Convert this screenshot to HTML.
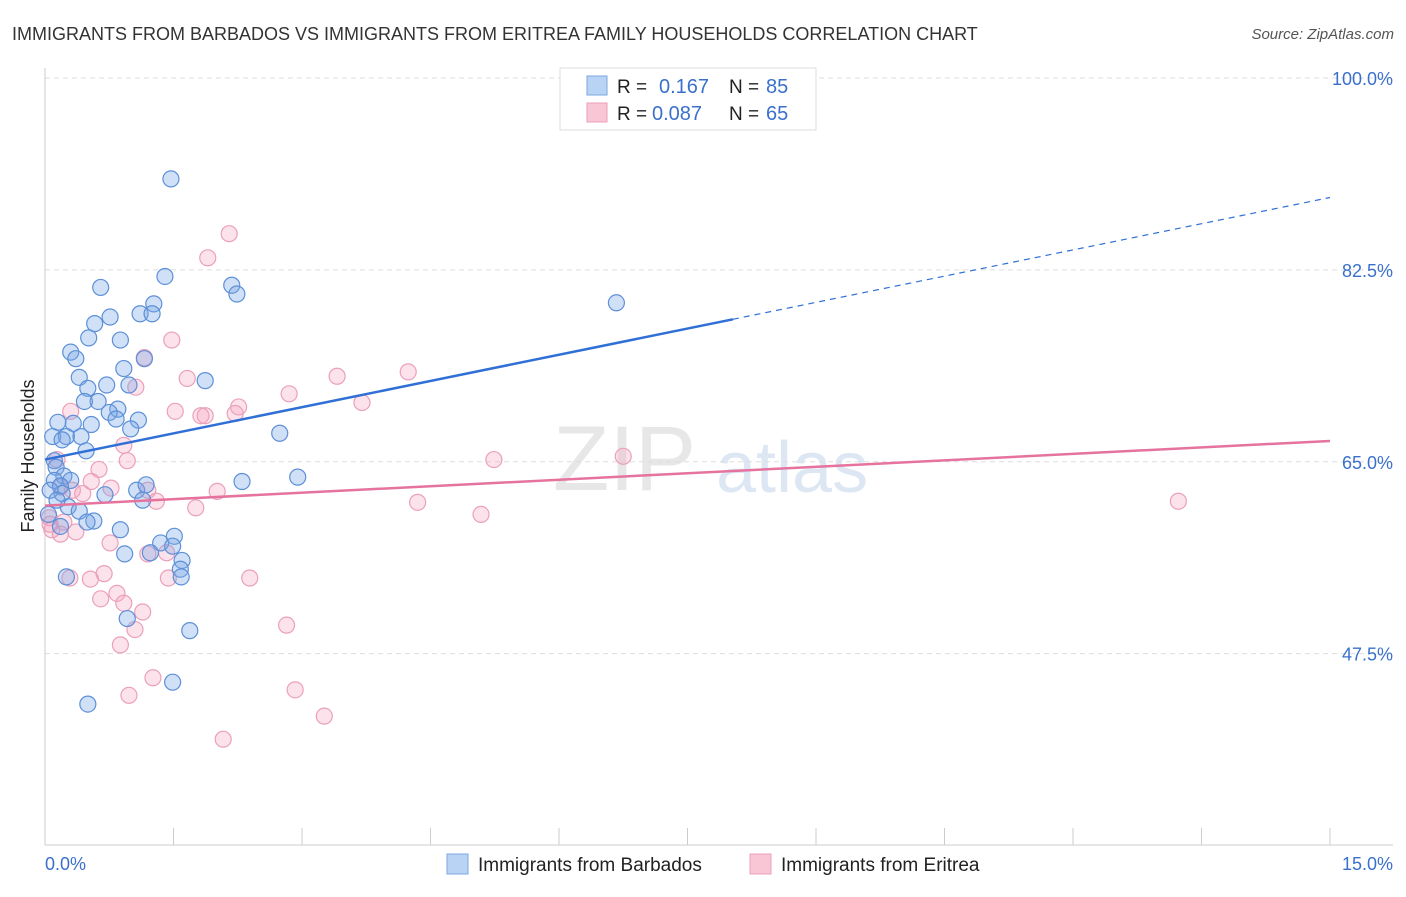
<!DOCTYPE html>
<html><head><meta charset="utf-8"><style>
body{margin:0;background:#fff;font-family:"Liberation Sans",sans-serif}
svg text{font-family:"Liberation Sans",sans-serif}
</style></head><body>
<svg id="c" width="1406" height="892" xmlns="http://www.w3.org/2000/svg">
<text x="12" y="40" font-size="18" fill="#333">IMMIGRANTS FROM BARBADOS VS IMMIGRANTS FROM ERITREA FAMILY HOUSEHOLDS CORRELATION CHART</text>
<text x="1394" y="39" font-size="15" fill="#555" font-style="italic" text-anchor="end">Source: ZipAtlas.com</text>
<g><text x="553" y="490" font-size="92" font-family="Liberation Serif" fill="#ddd" opacity="0.7">ZIP</text><text x="716" y="492" font-size="72" fill="#c8d8ee" opacity="0.6">atlas</text></g>
<text transform="translate(34,456) rotate(-90)" font-size="18" fill="#222" text-anchor="middle">Family Households</text>
<g id="grid"></g><g id="axes"></g><g id="pts"></g><g id="lines"></g>
<g>
<rect x="560" y="68" width="256" height="62" fill="#fff" stroke="#ddd"/>
<rect x="587" y="76" width="20" height="19" fill="#b9d3f5" stroke="#7aa7e0"/>
<rect x="587" y="103" width="20" height="19" fill="#f9c6d6" stroke="#eba0ba"/>
<text x="617" y="93" font-size="19" fill="#222">R =</text><text x="659" y="93" font-size="20" fill="#3a70cc">0.167</text>
<text x="729" y="93" font-size="19" fill="#222">N =</text><text x="766" y="93" font-size="20" fill="#3a70cc">85</text>
<text x="617" y="120" font-size="19" fill="#222">R =</text><text x="652" y="120" font-size="20" fill="#3a70cc">0.087</text>
<text x="729" y="120" font-size="19" fill="#222">N =</text><text x="766" y="120" font-size="20" fill="#3a70cc">65</text>
</g>
<g>
<rect x="447" y="854" width="21" height="20" fill="#b9d3f5" stroke="#7aa7e0"/>
<text x="478" y="871" font-size="19" fill="#222">Immigrants from Barbados</text>
<rect x="750" y="854" width="21" height="20" fill="#f9c6d6" stroke="#eba0ba"/>
<text x="781" y="871" font-size="19" fill="#222">Immigrants from Eritrea</text>
</g>
</svg>
<script>
const yTicks=[100,82.5,65,47.5];
const yTickLabels=["100.0%","82.5%","65.0%","47.5%"];
const xTickLabels=["0.0%","15.0%"];
const blueX=[1.47,1.40,.65,2.18,2.24,1.27,1.11,1.25,.76,.58,.51,.88,.30,.36,1.16,.92,.40,.72,.98,1.87,.50,.62,.46,.85,.75,1.09,.83,.15,.33,.54,1.00,.09,.25,.42,.20,.48,2.74,.11,.13,.22,.11,.30,.18,.20,.70,1.07,1.18,1.14,2.30,2.95,.27,.40,.57,.49,.18,.88,1.51,1.35,1.49,.93,1.23,1.60,1.58,1.59,.25,.96,1.69,1.49,.50,6.67,.06,.14,.04];
const blueY=[90.8,81.9,80.9,81.1,80.3,79.4,78.5,78.5,78.2,77.6,76.3,76.1,75.0,74.4,74.4,73.5,72.7,72.0,72.0,72.4,71.7,70.5,70.5,69.8,69.5,68.8,68.9,68.6,68.5,68.4,68.0,67.3,67.3,67.3,67.0,66.0,67.6,65.1,64.5,63.7,63.3,63.3,62.8,62.1,62.0,62.4,62.9,61.5,63.2,63.6,60.9,60.5,59.6,59.5,59.1,58.8,58.2,57.6,57.3,56.6,56.7,56.0,55.2,54.5,54.5,50.7,49.6,44.9,42.9,79.5,62.4,61.5,60.2];
const pinkX=[2.15,1.90,1.48,1.16,1.06,1.66,2.85,3.41,4.24,3.70,2.26,1.52,2.22,1.87,1.82,.30,.92,.96,.14,5.24,6.75,13.23,4.35,5.09,.63,2.01,1.76,.18,.32,.44,.54,.77,1.20,1.30,.05,.08,.36,.22,.76,1.20,1.42,1.44,2.39,.69,.53,.29,.84,.65,.92,1.14,1.05,2.82,.88,1.26,.98,2.92,3.26,2.08,.06,.18];
const pinkY=[85.8,83.6,76.1,74.5,71.8,72.6,71.2,72.8,73.2,70.4,70.0,69.6,69.4,69.2,69.2,69.6,66.5,65.1,65.2,65.2,65.5,61.4,61.3,60.2,64.3,62.3,60.8,62.7,62.4,62.1,63.2,62.6,62.4,61.4,59.9,58.8,58.6,59.5,57.6,56.6,56.7,54.4,54.4,54.8,54.3,54.4,53.0,52.5,52.1,51.3,49.7,50.1,48.3,45.3,43.7,44.2,41.8,39.7,59.3,58.4];
const blueTrend=[65.2,89.1];const blueSolidEnd=8.03;
const pinkTrend=[61.0,66.9];
const X0=45,X1=1330,Y0=845,Y1=78,xMax=15,yMin=30.05,yMax=100;
const sx=v=>X0+v/xMax*(X1-X0), sy=v=>Y0-(v-yMin)/(yMax-yMin)*(Y0-Y1);
const NS="http://www.w3.org/2000/svg";
function mk(p,t,a){const e=document.createElementNS(NS,t);for(const k in a)e.setAttribute(k,a[k]);document.getElementById(p).appendChild(e);return e;}
yTicks.forEach((v,i)=>{
 const l=mk('grid','line',{x1:X0,x2:1393,y1:sy(v),y2:sy(v),stroke:'#ddd','stroke-dasharray':'5,4'});
 
 
 const t=mk('grid','text',{x:1393,y:sy(v)+7,'font-size':18,fill:'#3a70cc','text-anchor':'end'});t.textContent=yTickLabels[i];
 
 
});
let a=mk('axes','line',{x1:X0,x2:X0,y1:68,y2:Y0,stroke:'#ccc'});


a=mk('axes','line',{x1:X0,x2:1393,y1:Y0,y2:Y0,stroke:'#ccc'});


for(let k=0;k<=10;k++){const t=mk('axes','line',{x1:sx(k*1.5),x2:sx(k*1.5),y1:828,y2:Y0,stroke:'#ccc'});
 
 }
[[0,'start',45],[1,'end',1393]].forEach(([i,an,x])=>{const t=mk('axes','text',{x:x,y:870,'font-size':18,fill:'#3a70cc','text-anchor':an});t.textContent=xTickLabels[i];
 
 });
pinkX.forEach((x,i)=>{const c=mk('pts','circle',{cx:sx(x),cy:sy(pinkY[i]),r:8,fill:'rgba(244,160,190,0.3)',stroke:'#eba0ba','stroke-width':1.2});
 
 });
blueX.forEach((x,i)=>{const c=mk('pts','circle',{cx:sx(x),cy:sy(blueY[i]),r:8,fill:'rgba(120,165,230,0.35)',stroke:'#5d90d8','stroke-width':1.2});
 
 });
const bAt=x=>blueTrend[0]+(blueTrend[1]-blueTrend[0])*x/xMax;
let l=mk('lines','line',{x1:sx(0),y1:sy(bAt(0)),x2:sx(blueSolidEnd),y2:sy(bAt(blueSolidEnd)),stroke:'#2f6fd6','stroke-width':2.5});


l=mk('lines','line',{x1:sx(blueSolidEnd),y1:sy(bAt(blueSolidEnd)),x2:sx(xMax),y2:sy(bAt(xMax)),stroke:'#2f6fd6','stroke-width':1.2,'stroke-dasharray':'6,5'});


l=mk('lines','line',{x1:sx(0),y1:sy(pinkTrend[0]),x2:sx(xMax),y2:sy(pinkTrend[1]),stroke:'#e5739d','stroke-width':2.5});


</script>
</body></html>
